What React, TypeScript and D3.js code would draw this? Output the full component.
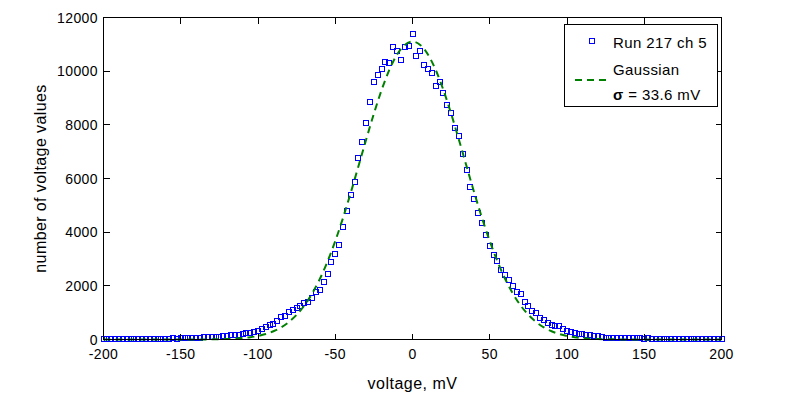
import React from 'react';
import * as d3 from 'd3';

// histogram of measured voltages, bins every 2.5 mV from -200 to 200
const binStart = -200;
const binStep = 2.5;
const counts = [
  10, 15, 20, 15, 20, 25, 20, 30, 25, 25,
  30, 25, 30, 30, 35, 30, 35, 35, 40, 35,
  40, 45, 50, 55, 60, 70, 75, 85, 90, 100,
  110, 120, 130, 150, 165, 180, 200, 230, 253, 290,
  327, 380, 454, 528, 566, 677, 826, 870, 1012, 1087,
  1161, 1235, 1347, 1384, 1533, 1756, 1831, 2128, 2426, 2873,
  3170, 3505, 4186, 4807, 5403, 5886, 6780, 7375, 8082, 8863,
  9607, 9868, 10091, 10351, 10288, 10910, 10753, 10426, 10888, 10921,
  11394, // 0 mV
  10575, 10753, 10240, 10091, 9942, 9459, 9607, 9198, 8752, 8454,
  7896, 7598, 6928, 6333, 5700, 5254, 4696, 4324, 3877, 3468,
  3133, 2910, 2575, 2389, 2203, 1980, 1756, 1682, 1384, 1235,
  1072, 975, 789, 726, 603, 528, 491, 491, 380, 305,
  268, 230, 193, 193, 180, 150, 130, 120, 110, 70,
  65, 60, 55, 50, 45, 50, 40, 45, 40, 35,
  40, 30, 35, 30, 25, 30, 25, 30, 25, 20,
  25, 20, 15, 20, 15, 20, 15, 10, 15, 10,
];
const voltages = counts.map((_, i) => binStart + i * binStep);

// fitted gaussian curve, read at sample voltages
const fitVolt = [
  -200, -150, -140, -130, -120, -115, -110, -105, -100, -95, -90, -85, -80, -75, -70,
  -65, -60, -55, -50, -45, -40, -35, -30, -25, -20, -15, -10, -5, 0,
  5, 10, 15, 20, 25, 30, 35, 40, 45, 50, 55, 60, 65,
  70, 75, 80, 85, 90, 95, 100, 105, 110, 115, 120, 130, 140, 150, 200,
];
const fitCount = [
  0, 0, 2, 6, 19, 32, 52, 84, 132, 204, 307, 452, 652, 919, 1267,
  1708, 2253, 2907, 3669, 4527, 5465, 6453, 7451, 8416, 9297, 10048, 10619, 10978, 11100,
  10978, 10619, 10048, 9297, 8416, 7451, 6453, 5465, 4527, 3669, 2907, 2253, 1708,
  1267, 919, 652, 452, 307, 204, 132, 84, 52, 32, 19, 6, 2, 0, 0,
];

const xTicks = [-200, -150, -100, -50, 0, 50, 100, 150, 200];
const yTicks = [0, 2000, 4000, 6000, 8000, 10000, 12000];

const W = 799;
const H = 393;
const font = 'Liberation Sans, Arial, Helvetica, sans-serif';
const blue = '#0000ff';
const green = '#008000';

export default function App() {
  const x = d3.scaleLinear().domain([-200, 200]).range([103.5, 721.5]);
  const y = d3.scaleLinear().domain([0, 12000]).range([339.5, 17.5]);
  const [x0, x1] = x.range();
  const [y0, y1] = y.range();
  const tickLen = 6;

  const fitLine = d3
    .line<number>()
    .x((d, i) => x(fitVolt[i]))
    .y((d) => y(d))
    .curve(d3.curveMonotoneX);

  const lx = 564.5;
  const ly = 24.5;

  return (
    <svg
      width={W}
      height={H}
      style={{ position: 'absolute', left: 0, top: 0, background: '#fff' }}
      fontFamily={font}
    >
      <rect x={0} y={0} width={W} height={H} fill="#fff" />

      {/* data squares */}
      <g shapeRendering="crispEdges">
        {counts.map((c, i) => (
          <rect
            key={i}
            x={Math.round(x(voltages[i])) - 2.5}
            y={Math.round(y(c)) - 2.5}
            width={5}
            height={5}
            fill="none"
            stroke={blue}
            strokeWidth={1}
          />
        ))}
      </g>

      {/* gaussian fit */}
      <path
        d={fitLine(fitCount) || ''}
        fill="none"
        stroke={green}
        strokeWidth={2}
        strokeDasharray="7,5"
      />

      {/* axes box */}
      <g shapeRendering="crispEdges" stroke="#000" strokeWidth={1}>
        <rect x={x0} y={y1} width={x1 - x0} height={y0 - y1} fill="none" />
        {xTicks.map((t) => (
          <g key={t}>
            <line x1={x(t)} x2={x(t)} y1={y0} y2={y0 - tickLen} />
            <line x1={x(t)} x2={x(t)} y1={y1} y2={y1 + tickLen} />
          </g>
        ))}
        {yTicks.map((t) => (
          <g key={t}>
            <line x1={x0} x2={x0 + tickLen} y1={y(t)} y2={y(t)} />
            <line x1={x1} x2={x1 - tickLen} y1={y(t)} y2={y(t)} />
          </g>
        ))}
      </g>

      {/* tick labels */}
      <g fontSize={14} fill="#000" letterSpacing={0.4}>
        {xTicks.map((t) => (
          <text key={t} x={x(t)} y={359} textAnchor="middle">
            {t}
          </text>
        ))}
        {yTicks.map((t) => (
          <text key={t} x={98} y={y(t) + 5} textAnchor="end">
            {t}
          </text>
        ))}
      </g>

      {/* axis titles */}
      <text x={412.5} y={389} fontSize={16} letterSpacing={0.5} textAnchor="middle">
        voltage, mV
      </text>
      <text
        transform={`translate(46, ${(y0 + y1) / 2}) rotate(-90)`}
        fontSize={16}
        letterSpacing={0.4}
        textAnchor="middle"
      >
        number of voltage values
      </text>

      {/* legend */}
      <g>
        <rect
          x={lx}
          y={ly}
          width={153}
          height={82}
          fill="#fff"
          stroke="#000"
          shapeRendering="crispEdges"
        />
        <rect
          x={589.5}
          y={38.5}
          width={5}
          height={5}
          fill="none"
          stroke={blue}
          shapeRendering="crispEdges"
        />
        <g fontSize={15} letterSpacing={0.4}>
          <text x={613} y={48}>
            Run 217 ch 5
          </text>
          <line
            x1={575}
            x2={610}
            y1={80}
            y2={80}
            stroke={green}
            strokeWidth={2}
            strokeDasharray="7,5"
          />
          <text x={613} y={75}>
            Gaussian
          </text>
          <text x={613} y={100}>
            <tspan fontWeight="bold">σ</tspan> = 33.6 mV
          </text>
        </g>
      </g>
    </svg>
  );
}
